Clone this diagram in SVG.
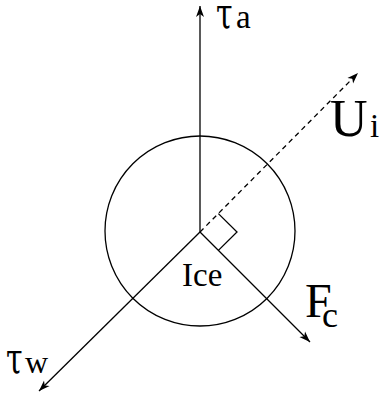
<svg xmlns="http://www.w3.org/2000/svg" width="386" height="393" viewBox="0 0 386 393">
<style>
.ln{stroke:#000;stroke-width:1.3;fill:none}
.ds{stroke-dasharray:5,4}
</style>
<defs>
<marker id="ah" viewBox="0 0 12 10" refX="11" refY="5" markerWidth="12" markerHeight="10" markerUnits="userSpaceOnUse" orient="auto">
<path d="M0,1 L11,5 L0,9 L3,5 Z" fill="#000"/>
</marker>
</defs>
<rect width="386" height="393" fill="#fff"/>
<g id="ice">
<circle class="ln" cx="200" cy="231" r="95"/>
<text x="182" y="286" font-family="Liberation Serif, serif" font-size="33">Ice</text>
</g>
<g id="connectors">
<line id="tau-a" class="ln" x1="200" y1="232" x2="200" y2="6" marker-end="url(#ah)"/>
<line id="u-i" class="ln ds" x1="200" y1="232" x2="358" y2="73" marker-end="url(#ah)"/>
<line id="f-c" class="ln" x1="200" y1="232" x2="310" y2="342" marker-end="url(#ah)"/>
<line id="tau-w" class="ln" x1="200" y1="232" x2="39" y2="391" marker-end="url(#ah)"/>
<path id="right-angle" class="ln" d="M218.4,213.6 L237,232 L218.4,250.4"/>
</g>
<g id="label-tau-a">
<text transform="translate(216,28) scale(1,1.45)" font-family="DejaVu Serif, serif" font-size="30">τ</text>
<text x="236" y="28" font-family="Liberation Serif, serif" font-size="33">a</text>
</g>
<g id="label-u-i">
<text x="330" y="136" font-family="Liberation Serif, serif" font-size="52">U</text>
<text x="370" y="137" font-family="Liberation Serif, serif" font-size="33">i</text>
</g>
<g id="label-f-c">
<text x="305" y="317" font-family="Liberation Serif, serif" font-size="48">F</text>
<text x="322" y="327" font-family="Liberation Serif, serif" font-size="36">c</text>
</g>
<g id="label-tau-w">
<text transform="translate(6,373) scale(1,1.45)" font-family="DejaVu Serif, serif" font-size="30">τ</text>
<text x="25" y="373" font-family="Liberation Serif, serif" font-size="32">w</text>
</g>
</svg>
